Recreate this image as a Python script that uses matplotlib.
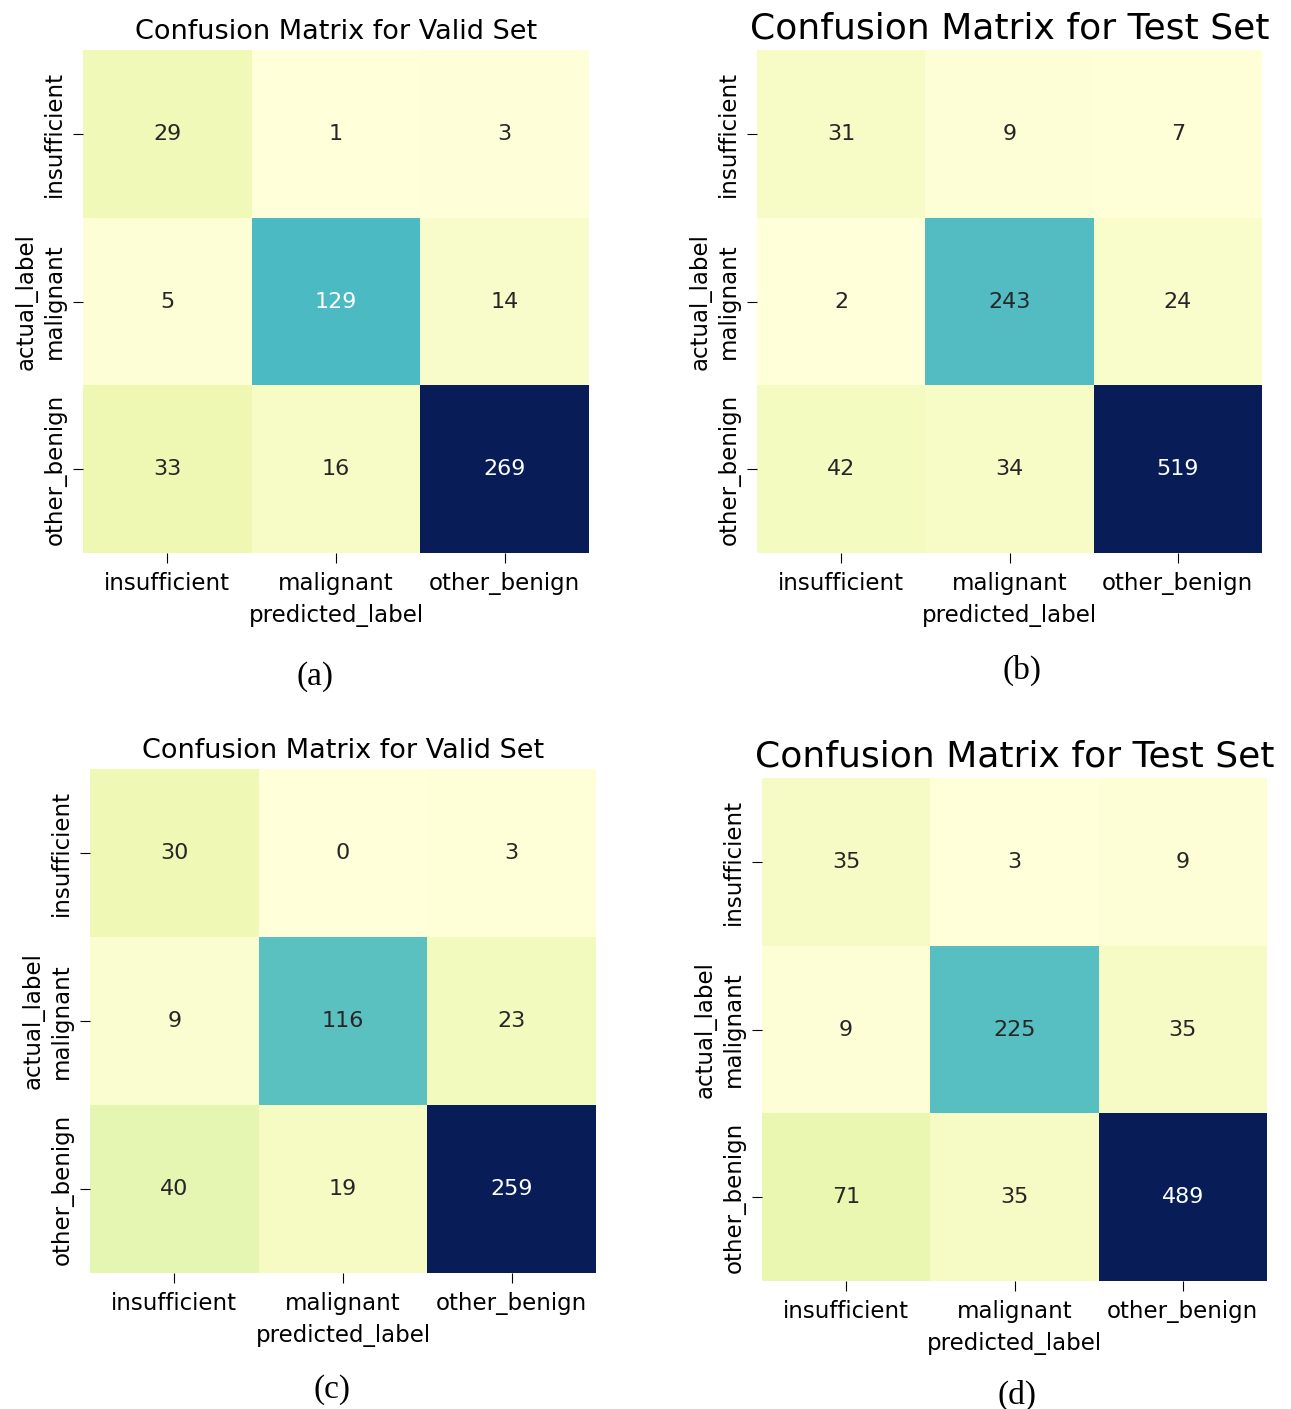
import matplotlib
matplotlib.use("Agg")
import matplotlib.pyplot as plt
import numpy as np
import seaborn as sns

labels = ["insufficient", "malignant", "other_benign"]

valid_a = [[29, 1, 3], [5, 129, 14], [33, 16, 269]]
test_b = [[31, 9, 7], [2, 243, 24], [42, 34, 519]]
valid_c = [[30, 0, 3], [9, 116, 23], [40, 19, 259]]
test_d = [[35, 3, 9], [9, 225, 35], [71, 35, 489]]

titles = ["Confusion Matrix for Valid Set", "Confusion Matrix for Test Set",
          "Confusion Matrix for Valid Set", "Confusion Matrix for Test Set"]
captions = ["(a)", "(b)", "(c)", "(d)"]

W, H = 1291, 1409
fig = plt.figure(figsize=(W / 100, H / 100), dpi=100)

# panel boxes in pixels: left, right, top, bottom
boxes = [(83, 589, 50, 553), (757, 1262, 50, 553),
         (90, 596, 769, 1273), (762, 1267, 778, 1281)]
title_sizes = [19.5, 26, 19.5, 26]
caption_pos = [(315, 677), (1022, 670), (332, 1390), (1017, 1395)]

for data, title, cap, box, ts, cp in zip([valid_a, test_b, valid_c, test_d], titles,
                                         captions, boxes, title_sizes, caption_pos):
    l, r, t, b = box
    ax = fig.add_axes([l / W, 1 - b / H, (r - l) / W, (b - t) / H])
    sns.heatmap(np.array(data), annot=True, fmt="d", cmap="YlGnBu", cbar=False,
                xticklabels=labels, yticklabels=labels, ax=ax,
                annot_kws={"fontsize": 16})
    ax.set_title(title, fontsize=ts, pad=8)
    ax.set_xlabel("predicted_label", fontsize=16.5, labelpad=6)
    ax.set_ylabel("actual_label", fontsize=16.5, labelpad=4)
    ax.tick_params(labelsize=16.5, length=7)
    ax.tick_params(axis="x", pad=7)
    ax.tick_params(axis="y", pad=5)
    plt.setp(ax.get_yticklabels(), rotation=90, va="center")
    fig.text(cp[0] / W, 1 - cp[1] / H, cap, ha="center", va="center",
             fontsize=24, family="Liberation Serif")

fig.savefig("out.png", dpi=100)
